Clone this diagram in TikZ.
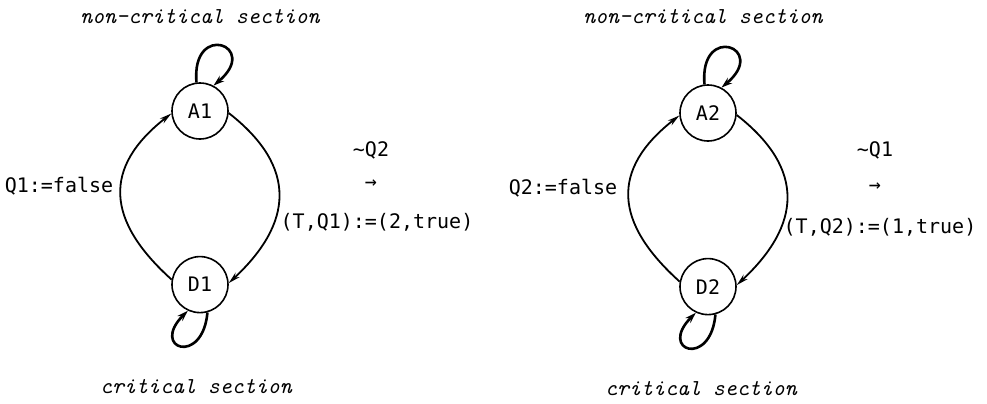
\documentclass[tikz,border=0pt]{standalone}
\usepackage{fontspec}
\usepackage{tikz}
\usetikzlibrary{arrows.meta, positioning}

\newfontfamily\monolabel{DejaVu Sans Mono}
\newcommand{\sectfont}{\fontsize{11.4}{13}\ttfamily\itshape}
\newcommand{\condfont}{\fontsize{10}{12}\monolabel}

\begin{document}
\begin{tikzpicture}[
    x=0.5pt, y=0.5pt,
    every node/.style={inner sep=1pt},
    state/.style={circle, draw, line width=0.8pt, minimum size=28pt, inner sep=0pt, font=\condfont},
    sect/.style={font=\sectfont},
    cond/.style={font=\condfont},
    arc/.style={-{Stealth[length=6pt, width=3pt]}, line width=0.9pt},
    selfloop/.style={-{Stealth[length=5.5pt, width=3.5pt]}, line width=1.3pt},
]
\useasboundingbox (0,0) rectangle (987,403);

% process 1
\node[state] (A1) at (200,292) {A1};
\node[state, below=58pt of A1] (D1) {D1};

\node[sect] (nc1) at (200,386) {non-critical section};
\node[sect] (cs1) at (196,16) {critical section};
\node[cond] (rel1) at (59,217) {Q1:=false};
\node[cond] (g1) at (371,253) {\textasciitilde Q2};
\node[cond] (to1) at (371,219) {→};
\node[cond] (set1) at (377,181) {(T,Q1):=(2,true)};

\draw[selfloop] (A1.97) .. controls +(95:62) and +(40:62) .. (A1.62);
\draw[selfloop] (D1.-75) .. controls +(-95:54) and +(225:54) .. (D1.-115);
\draw[arc] (D1.170) .. controls +(138:88) and +(218:88) .. (A1.185);
\draw[arc] (A1.-4) .. controls +(-38:88) and +(43:88) .. (D1.3);

% process 2
\node[state] (A2) at (708,290) {A2};
\node[state, below=58pt of A2] (D2) {D2};

\node[sect] (nc2) at (703,386) {non-critical section};
\node[sect] (cs2) at (701,14) {critical section};
\node[cond] (rel2) at (563,215) {Q2:=false};
\node[cond] (g2) at (875,253) {\textasciitilde Q1};
\node[cond] (to2) at (875,216) {→};
\node[cond] (set2) at (880,176) {(T,Q2):=(1,true)};

\draw[selfloop] (A2.97) .. controls +(95:62) and +(40:62) .. (A2.62);
\draw[selfloop] (D2.-75) .. controls +(-95:54) and +(225:54) .. (D2.-115);
\draw[arc] (D2.170) .. controls +(138:88) and +(218:88) .. (A2.185);
\draw[arc] (A2.-4) .. controls +(-38:88) and +(43:88) .. (D2.3);
\end{tikzpicture}
\end{document}
